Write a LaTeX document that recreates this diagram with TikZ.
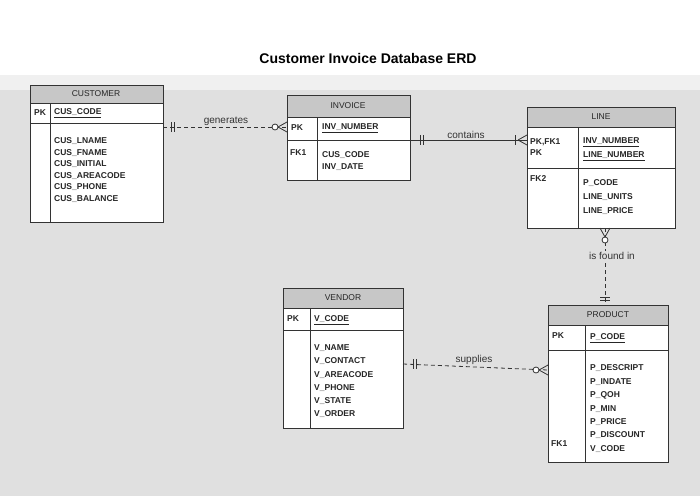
\documentclass[tikz,border=0pt]{standalone}
\usepackage{fontspec}
\setmainfont{Liberation Sans}
\begin{document}
\begin{tikzpicture}[x=1pt,y=-1pt,
  tb/.style={draw=black!80,line width=0.8pt},
  hd/.style={fill=black!22,draw=black!80,line width=0.8pt},
  t/.style={font=\bfseries\fontsize{8.5}{9}\selectfont,anchor=west,inner sep=0pt,text=black!85},
  h/.style={font=\fontsize{8.5}{9}\selectfont,inner sep=0pt,text=black!85},
  lbl/.style={font=\fontsize{10}{11}\selectfont,inner sep=1pt,text=black!80},
  rel/.style={line width=0.8pt,draw=black!80},
  dsh/.style={rel,dash pattern=on 4pt off 3pt}]
\useasboundingbox (0,0) rectangle (700,496);
\fill[white] (0,0) rectangle (700,496);
\fill[black!12] (0,75) rectangle (700,496);
\fill[black!6] (0,75) rectangle (700,90);
\node[font=\bfseries\fontsize{14}{16}\selectfont] (title) at (368,58) {Customer Invoice Database ERD};
% CUSTOMER
\draw[hd] (30,85) rectangle (163,103); \node[h] (cust) at (96,94) {CUSTOMER};
\draw[tb,fill=white] (30,103) rectangle (163,123); \draw[tb,fill=white] (30,123) rectangle (163,222);
\draw[tb] (50,103) -- (50,222);
\node[t] at (34,113) {PK}; \node[t] at (54,113) {\underline{CUS\_CODE}};
\foreach \s [count=\i] in {CUS\_LNAME,CUS\_FNAME,CUS\_INITIAL,CUS\_AREACODE,CUS\_PHONE,CUS\_BALANCE}
  \node[t] at (54,130+11.5*\i) {\s};
% INVOICE
\draw[hd] (287,95) rectangle (410,117); \node[h] (inv) at (348,106) {INVOICE};
\draw[tb,fill=white] (287,117) rectangle (410,140); \draw[tb,fill=white] (287,140) rectangle (410,180);
\draw[tb] (317,117) -- (317,180);
\node[t] at (291,128) {PK}; \node[t] at (322,128) {\underline{INV\_NUMBER}};
\node[t] at (290,153) {FK1}; \node[t] at (322,155) {CUS\_CODE}; \node[t] at (322,167) {INV\_DATE};
% LINE
\draw[hd] (527,107) rectangle (675,127); \node[h] (line) at (601,117) {LINE};
\draw[tb,fill=white] (527,127) rectangle (675,168); \draw[tb,fill=white] (527,168) rectangle (675,228);
\draw[tb] (578,127) -- (578,228);
\node[t] at (530,142) {PK,FK1}; \node[t] at (530,153) {PK};
\node[t] at (583,142) {\underline{INV\_NUMBER}}; \node[t] at (583,156) {\underline{LINE\_NUMBER}};
\node[t] at (530,179) {FK2};
\node[t] at (583,183) {P\_CODE}; \node[t] at (583,197) {LINE\_UNITS}; \node[t] at (583,211) {LINE\_PRICE};
% VENDOR
\draw[hd] (283,288) rectangle (403,308); \node[h] (ven) at (343,298) {VENDOR};
\draw[tb,fill=white] (283,308) rectangle (403,330); \draw[tb,fill=white] (283,330) rectangle (403,428);
\draw[tb] (310,308) -- (310,428);
\node[t] at (287,319) {PK}; \node[t] at (314,320) {\underline{V\_CODE}};
\foreach \s [count=\i] in {V\_NAME,V\_CONTACT,V\_AREACODE,V\_PHONE,V\_STATE,V\_ORDER}
  \node[t] at (314,335+13.2*\i) {\s};
% PRODUCT
\draw[hd] (548,305) rectangle (668,325); \node[h] (prod) at (608,315) {PRODUCT};
\draw[tb,fill=white] (548,325) rectangle (668,350); \draw[tb,fill=white] (548,350) rectangle (668,462);
\draw[tb] (585,325) -- (585,462);
\node[t] at (552,336) {PK}; \node[t] at (590,338) {\underline{P\_CODE}};
\foreach \s [count=\i] in {P\_DESCRIPT,P\_INDATE,P\_QOH,P\_MIN,P\_PRICE,P\_DISCOUNT}
  \node[t] at (590,355+13.4*\i) {\s};
\node[t] at (551,444) {FK1}; \node[t] at (590,449) {V\_CODE};
% connector ends
\coordinate (c1a) at (163,127); \coordinate (c1b) at (287,127);
\coordinate (c2a) at (410,140); \coordinate (c2b) at (527,140);
\coordinate (c3a) at (605,228); \coordinate (c3b) at (605,305);
\coordinate (c4a) at (403,364); \coordinate (c4b) at (548,370);
% generates
\draw[dsh] (c1a) -- (c1b);
\draw[rel] ([xshift=8]c1a) ++(0,-5) -- ++(0,10) ++(3,-10) -- ++(0,10);
\draw[rel] ([xshift=-9]c1b) -- ++(9,-5) ([xshift=-9]c1b) -- ++(9,5);
\draw[rel,fill=white] ([xshift=-12]c1b) circle (3);
\node[lbl,above] (gen) at (226,127) {generates};
% contains
\draw[rel] (c2a) -- (c2b);
\draw[rel] ([xshift=10]c2a) ++(0,-5) -- ++(0,10) ++(3,-10) -- ++(0,10);
\draw[rel] ([xshift=-9]c2b) -- ++(9,-5) ([xshift=-9]c2b) -- ++(9,5);
\draw[rel] ([xshift=-12]c2b) ++(0,-5) -- ++(0,10);
\node[lbl,above] (con) at (466,140) {contains};
% is found in
\draw[dsh] (c3a) -- (c3b);
\draw[rel] ([yshift=-9]c3a) -- ++(-5,-9) ([yshift=-9]c3a) -- ++(5,-9);
\draw[rel,fill=white] ([yshift=-12]c3a) circle (3);
\draw[rel] ([yshift=8]c3b) ++(-5,0) -- ++(10,0) ++(-10,3) -- ++(10,0);
\node[lbl,fill=black!12] (fnd) at (612,256) {is found in};
% supplies
\draw[dsh] (c4a) -- (c4b);
\draw[rel] ([xshift=10]c4a) ++(0,-5) -- ++(0,10) ++(3,-10) -- ++(0,10);
\draw[rel] ([xshift=-9]c4b) -- ++(9,-5) ([xshift=-9]c4b) -- ++(9,5);
\draw[rel,fill=white] ([xshift=-12]c4b) circle (3);
\node[lbl,above] (sup) at (474,366) {supplies};
\end{tikzpicture}
\end{document}
